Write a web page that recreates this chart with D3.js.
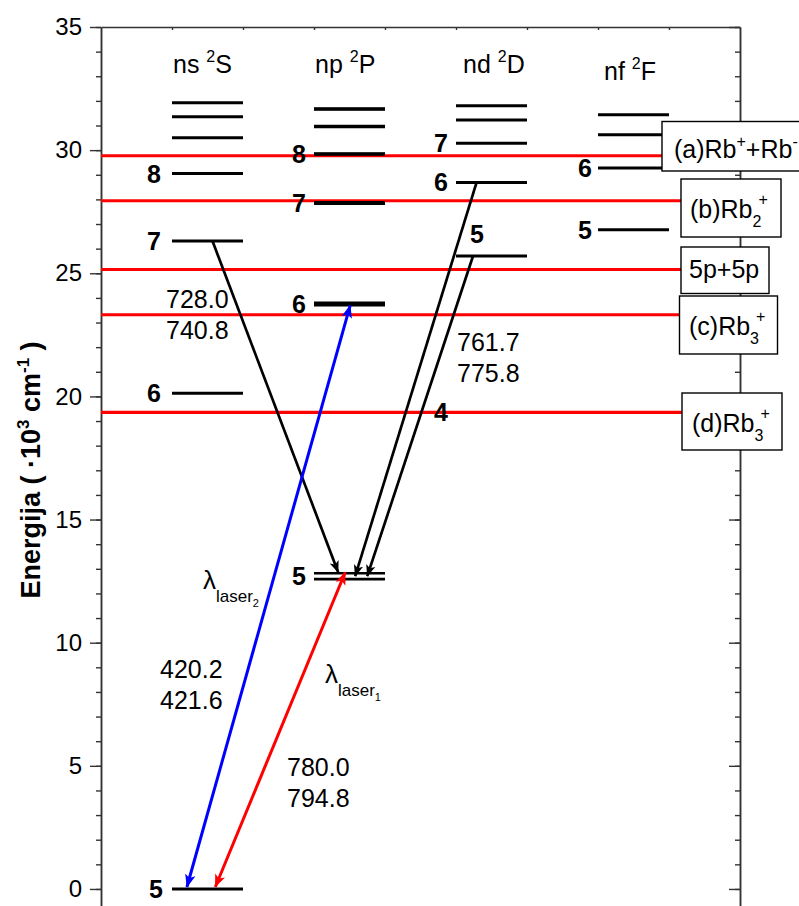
<!DOCTYPE html>
<html>
<head>
<meta charset="utf-8">
<script src="https://cdn.jsdelivr.net/npm/d3@7"></script>
<style>
  html, body { margin: 0; padding: 0; background: #fff; }
  svg { display: block; font-family: Arial, "Liberation Sans", sans-serif; }
</style>
</head>
<body>
<svg id="chart" width="799" height="906"></svg>
<script>
// ---------- data ----------
const columns = ["ns", "np", "nd", "nf"];
const columnTerms = ["S", "P", "D", "F"];
const nsLevels = [ {n: 5, E: [0]}, {n: 6, E: [20.13]}, {n: 7, E: [26.31]}, {n: 8, E: [29.05]},
                   {n: 9, E: [30.50]}, {n: 10, E: [31.36]}, {n: 11, E: [31.92]} ];
const npLevels = [ {n: 5, E: [12.579, 12.817]}, {n: 6, E: [23.715, 23.792]}, {n: 7, E: [27.835, 27.871]},
                   {n: 8, E: [29.835, 29.853]}, {n: 9, E: [30.95, 30.97]}, {n: 10, E: [31.66, 31.68]} ];
const ndLevels = [ {n: 4, E: [19.355]}, {n: 5, E: [25.70]}, {n: 6, E: [28.69]}, {n: 7, E: [30.28]},
                   {n: 8, E: [31.22]}, {n: 9, E: [31.80]} ];
const nfLevels = [ {n: 5, E: [26.77]}, {n: 6, E: [29.27]}, {n: 7, E: [30.62]}, {n: 8, E: [31.44]} ];
const labeledN = { ns: [5, 6, 7, 8], np: [5, 6, 7, 8], nd: [4, 5, 6, 7], nf: [5, 6] };

const thresholdNames = ["(a)", "(b)", "5p+5p", "(c)", "(d)"];
const thresholdE = [29.77, 27.94, 25.15, 23.32, 19.35];

const yTicks = [0, 5, 10, 15, 20, 25, 30, 35];
const yMinor = d3.range(0, 36, 1);

// transitions: from [column x, E] to [column x, E]
const transitions = [
  {from: [1.57, 26.31], to: [3.34, 12.86], color: "#000", both: false},
  {from: [5.29, 28.69], to: [3.58, 12.70], color: "#000", both: false},
  {from: [5.24, 25.70], to: [3.75, 12.70], color: "#000", both: false},
  {from: [1.21, 0.08], to: [3.51, 23.70], color: "#0000ff", both: true},
  {from: [1.61, 0.08], to: [3.44, 12.86], color: "#ff0000", both: true}
];
const wl_ns = ["728.0", "740.8"];
const wl_nd = ["761.7", "775.8"];
const wl_l2 = ["420.2", "421.6"];
const wl_l1 = ["780.0", "794.8"];

// ---------- scales ----------
const svg = d3.select("#chart");
const x = d3.scaleLinear().domain([0, 9]).range([101, 740]);
const y = d3.scaleLinear().domain([-0.7, 35]).range([906.2, 27]);
const FS = 24;

// defs: arrowheads
const defs = svg.append("defs");
[["blk", "#000"], ["blu", "#0000ff"], ["red", "#ff0000"]].forEach(([id, c]) => {
  defs.append("marker").attr("id", "m-" + id)
    .attr("viewBox", "0 0 10 10").attr("refX", 9.5).attr("refY", 5)
    .attr("markerWidth", 4.4).attr("markerHeight", 4.4)
    .attr("markerUnits", "strokeWidth")
    .attr("orient", "auto-start-reverse")
    .append("path").attr("d", "M0,1 L10,5 L0,9 L2.5,5 Z").attr("fill", c);
});

// ---------- axes ----------
const axisColor = "#333";
function styleAxis(g) {
  g.selectAll("path.domain").attr("stroke", axisColor).attr("stroke-width", 1.5);
  g.selectAll(".tick line").attr("stroke", axisColor).attr("stroke-width", 1.4);
}
// left minor
svg.append("g").attr("transform", `translate(${x(0)},0)`)
  .call(d3.axisLeft(y).tickValues(yMinor).tickSize(5).tickSizeOuter(0).tickFormat(""))
  .call(styleAxis);
// left major
const gl = svg.append("g").attr("transform", `translate(${x(0)},0)`)
  .call(d3.axisLeft(y).tickValues(yTicks).tickSize(11).tickSizeOuter(0).tickPadding(8).tickFormat(d3.format("d")))
  .call(styleAxis);
gl.selectAll(".tick text").attr("font-size", FS).attr("fill", "#000")
  .attr("font-family", "Arial, 'Liberation Sans', sans-serif");
// right axis (inward ticks)
svg.append("g").attr("transform", `translate(${x(9)},0)`)
  .call(d3.axisRight(y).tickValues(yMinor).tickSize(-5).tickSizeOuter(0).tickFormat(""))
  .call(styleAxis);
svg.append("g").attr("transform", `translate(${x(9)},0)`)
  .call(d3.axisRight(y).tickValues(yTicks).tickSize(-11).tickSizeOuter(0).tickFormat(""))
  .call(styleAxis);
// top axis
svg.append("g").attr("transform", `translate(0,${y(35)})`)
  .call(d3.axisTop(x).tickValues(d3.range(1, 9)).tickSize(-3).tickSizeOuter(0).tickFormat(""))
  .call(styleAxis);

// y axis title
const yt = svg.append("text")
  .attr("transform", `translate(40,${470}) rotate(-90)`)
  .attr("text-anchor", "middle").attr("font-size", 27).attr("font-weight", "bold");
yt.append("tspan").text("Energija ( ·10");
yt.append("tspan").attr("font-size", 17).attr("dy", -11).text("3");
yt.append("tspan").attr("dy", 11).text(" cm");
yt.append("tspan").attr("font-size", 17).attr("dy", -11).text("-1");
yt.append("tspan").attr("dy", 11).text(" )");

// ---------- threshold lines (red) ----------
const boxLeft = [662, 681, 681, 679, 682];
svg.append("g").selectAll("line").data(thresholdE).join("line")
  .attr("x1", x(0)).attr("x2", (d, i) => boxLeft[i])
  .attr("y1", d => y(d)).attr("y2", d => y(d))
  .attr("stroke", "#ff0000").attr("stroke-width", 3);

// ---------- levels ----------
const allCols = [nsLevels, npLevels, ndLevels, nfLevels];
const colX = [1, 3, 5, 7];
const lv = svg.append("g");
allCols.forEach((levels, ci) => {
  levels.forEach(L => {
    L.E.forEach(e => {
      lv.append("line")
        .attr("x1", x(colX[ci])).attr("x2", x(colX[ci] + 1))
        .attr("y1", y(e)).attr("y2", y(e))
        .attr("stroke", ci === 2 && L.n === 4 ? "#222" : "#000")
        .attr("stroke-width", ci === 2 && L.n === 4 ? 1.5 : (L.E.length > 1 && L.n === 5 ? 2.6 : 3));
    });
  });
});
// redraw (d) line over the 4d level as in reference
svg.append("line").attr("x1", x(0)).attr("x2", boxLeft[4])
  .attr("y1", y(thresholdE[4]) - 0.5).attr("y2", y(thresholdE[4]) - 0.5)
  .attr("stroke", "#ff0000").attr("stroke-width", 2.5);

// level labels
const lab = svg.append("g").attr("font-size", 25).attr("font-weight", "bold");
allCols.forEach((levels, ci) => {
  levels.filter(L => labeledN[columns[ci]].includes(L.n)).forEach(L => {
    const e = d3.mean(L.E);
    let lx = x(colX[ci]) - (ci === 0 ? 11 : 8), ly = y(e);
    let anchor = "end";
    if (ci === 2 && L.n === 5) { lx = x(colX[ci]) + 14; ly = y(e) - 22; anchor = "start"; }
    if (ci === 0 && L.n === 5) { lx = x(colX[ci]) - 9; }
    if (ci === 3) { lx = x(colX[ci]) - 6; }
    lab.append("text").attr("x", lx).attr("y", ly).attr("dy", "0.36em")
      .attr("text-anchor", anchor).text(L.n);
  });
});

// column headers
const hdrX = [173, 315, 463, 604];
const hdrY = [73, 73, 73, 80];
columns.forEach((c, i) => {
  const t = svg.append("text").attr("x", hdrX[i]).attr("y", hdrY[i]).attr("font-size", 25);
  t.append("tspan").text(c + " ");
  t.append("tspan").attr("font-size", 16).attr("dy", -11).text("2");
  t.append("tspan").attr("dy", 11).text(columnTerms[i]);
});

// ---------- transitions ----------
const tr = svg.append("g");
transitions.forEach(t => {
  const id = t.color === "#000" ? "blk" : (t.color === "#0000ff" ? "blu" : "red");
  tr.append("line")
    .attr("x1", x(t.from[0])).attr("y1", y(t.from[1]))
    .attr("x2", x(t.to[0])).attr("y2", y(t.to[1]))
    .attr("stroke", t.color).attr("stroke-width", t.color === "#000" ? 2.7 : 3)
    .attr("marker-end", `url(#m-${id})`)
    .attr("marker-start", t.both ? `url(#m-${id})` : null);
});

// wavelength labels
function wl(vals, x0, y0) {
  vals.forEach((v, i) => svg.append("text").attr("x", x0).attr("y", y0 + i * 30.5)
    .attr("font-size", 25).text(v));
}
wl(wl_ns, 166, 308);
wl(wl_nd, 457, 351);
wl(wl_l2, 160, 678);
wl(wl_l1, 287, 776);

// lambda labels
function lam(x0, y0, sub) {
  const t = svg.append("text").attr("x", x0).attr("y", y0).attr("font-size", 26);
  t.append("tspan").text("λ");
  t.append("tspan").attr("font-size", 17).attr("dy", 13).text("laser");
  t.append("tspan").attr("font-size", 11).attr("dy", 5).text(sub);
}
lam(203, 589, "2");
lam(325, 683, "1");

// ---------- boxes ----------
const boxes = [
  {x: 662, y: 121.5, w: 150, h: 49.5},
  {x: 681, y: 179, w: 100, h: 58},
  {x: 681, y: 247, w: 88, h: 46.5},
  {x: 679.5, y: 296, w: 98, h: 58},
  {x: 682, y: 393, w: 100, h: 57}
];
const bg = svg.append("g");
boxes.forEach(b => bg.append("rect").attr("x", b.x).attr("y", b.y).attr("width", b.w).attr("height", b.h)
  .attr("fill", "#fff").attr("stroke", "#000").attr("stroke-width", 1.4));

function rbText(x0, y0, pre, sub, sup) {
  const t = svg.append("text").attr("x", x0).attr("y", y0).attr("font-size", 25);
  t.append("tspan").text(pre + "Rb");
  if (sub) {
    t.append("tspan").attr("font-size", 16).attr("dy", 9).text(sub);
    t.append("tspan").attr("font-size", 16).attr("dy", -22).attr("dx", -3).text(sup);
  }
  return t;
}
// (a)
{
  const t = svg.append("text").attr("x", 674).attr("y", 158).attr("font-size", 25);
  t.append("tspan").text("(a)Rb");
  t.append("tspan").attr("font-size", 16).attr("dy", -11).text("+");
  t.append("tspan").attr("dy", 11).text("+Rb");
  t.append("tspan").attr("font-size", 16).attr("dy", -11).text("-");
}
rbText(690, 218, "(b)", "2", "+");
svg.append("text").attr("x", 689).attr("y", 278).attr("font-size", 25).text(thresholdNames[2]);
rbText(689, 335, "(c)", "3", "+");
rbText(692, 432, "(d)", "3", "+");
</script>
</body>
</html>
